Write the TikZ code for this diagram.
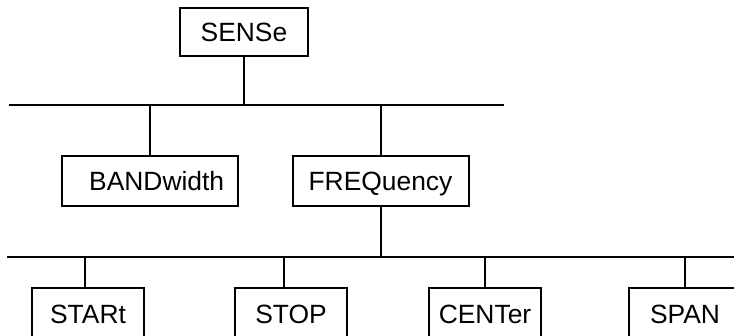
\documentclass[tikz,border=0pt]{standalone}
\usepackage{fontspec}
\setmainfont{Liberation Sans}
\begin{document}
\begin{tikzpicture}[x=0.75pt, y=-0.75pt, line width=1.5pt,
  cmd node/.style={draw, rectangle, inner sep=0pt, text height=14pt, text depth=0pt, font=\fontsize{19.8}{23}\selectfont},
  top node/.style={cmd node, minimum width=96pt, minimum height=36pt},
  mid node/.style={cmd node, minimum width=132pt, minimum height=37.5pt},
  leaf node/.style={cmd node, minimum width=84pt, minimum height=39pt}]
\clip (0,0) rectangle (734,335);
% command boxes
\node [top node](sense) at (244,32) {SENSe};
\node [mid node](band) at (150,181) {\hspace{10pt}BANDwidth};
\node [mid node](freq) at (380.5,181) {FREQuency};
\node [leaf node](start) at (88,314) {STARt};
\node [leaf node](stop) at (291,314) {STOP};
\node [leaf node](center) at (485,314) {CENTer};
\node [leaf node](span) at (685,314) {SPAN};
% the two bus lines
\coordinate (bus1w) at (9,105);
\coordinate (bus1e) at (504,105);
\coordinate (bus2w) at (7,257);
\coordinate (bus2e) at (740,257);
\draw (bus1w) -- (bus1e);
\draw (bus2w) -- (bus2e);
% drops
\draw (sense.south) -- (sense.south |- bus1w);
\draw (band.north) -- (band.north |- bus1w);
\draw (freq.north) -- (freq.north |- bus1w);
\draw (freq.south) -- (freq.south |- bus2w);
\draw ([xshift=-2pt]start.north) -- ([xshift=-2pt]start.north |- bus2w);
\draw ([xshift=-5pt]stop.north) -- ([xshift=-5pt]stop.north |- bus2w);
\foreach \n in {center,span}
  \draw (\n.north) -- (\n.north |- bus2w);
\end{tikzpicture}
\end{document}
